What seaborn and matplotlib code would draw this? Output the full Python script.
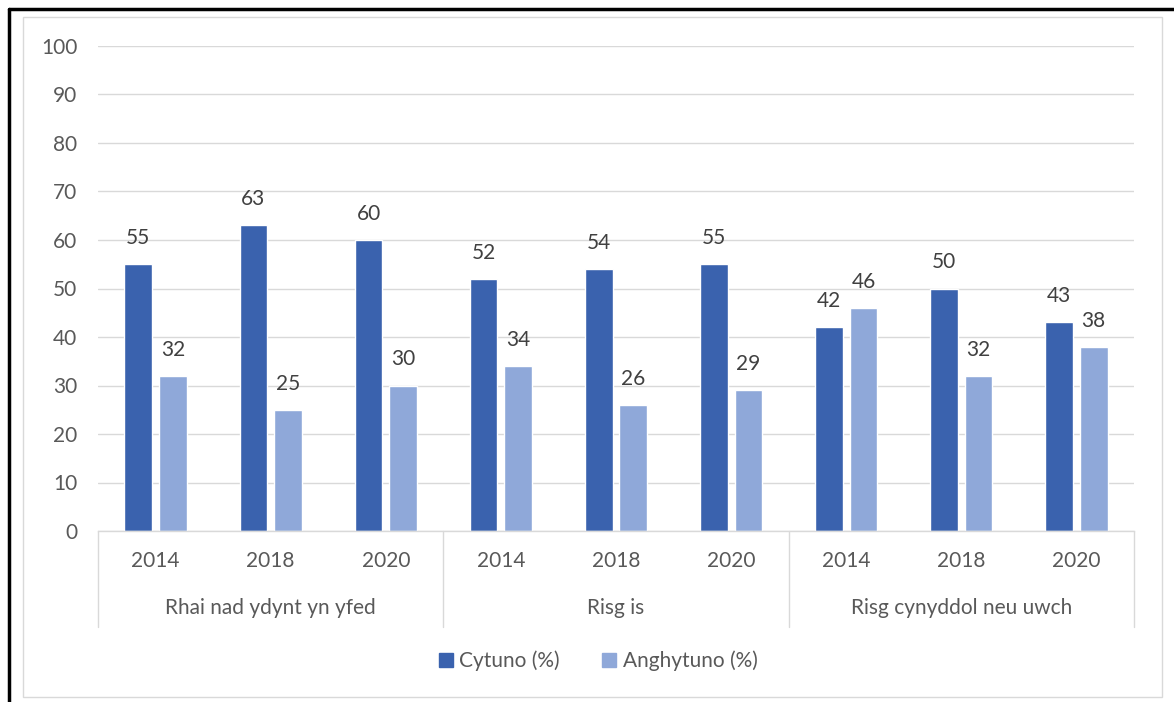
import matplotlib
matplotlib.use("Agg")
import matplotlib.pyplot as plt
import matplotlib.transforms as mtransforms
from matplotlib.lines import Line2D
from matplotlib.patches import Rectangle
import seaborn as sns
import pandas as pd

groups = ["Rhai nad ydynt yn yfed", "Risg is", "Risg cynyddol neu uwch"]
years = ["2014", "2018", "2020"]
series_names = ["Cytuno (%)", "Anghytuno (%)"]
cytuno = [55, 63, 60, 52, 54, 55, 42, 50, 43]
anghytuno = [32, 25, 30, 34, 26, 29, 46, 32, 38]
colors = ["#3A62AE", "#8FA8D9"]

sns.set_theme(style="white")
plt.rcParams["font.family"] = ["Lato", "DejaVu Sans"]
FS = 15

rows = []
for i, v in enumerate(cytuno):
    rows.append({"cat": i, "series": series_names[0], "value": v})
for i, v in enumerate(anghytuno):
    rows.append({"cat": i, "series": series_names[1], "value": v})
df = pd.DataFrame(rows)

fig = plt.figure(figsize=(11.74, 7.02), dpi=100)
W, H = 1174, 702
ax = fig.add_axes([98 / W, 1 - 531 / H, (1134 - 98) / W, (531 - 46) / H])

sns.barplot(data=df, x="cat", y="value", hue="series", palette=colors,
            width=0.6, gap=0.2, ax=ax, legend=False, saturation=1)

ax.set_ylim(0, 100)
ax.set_xlim(-0.5, 8.5)
ax.set_yticks(range(0, 101, 10))
ax.yaxis.grid(True, color="#D9D9D9", linewidth=1)
ax.set_axisbelow(True)
for s in ["top", "right", "left"]:
    ax.spines[s].set_visible(False)
ax.spines["bottom"].set_color("#D9D9D9")
ax.spines["bottom"].set_linewidth(1)
ax.tick_params(axis="y", length=0, pad=15, labelsize=FS, labelcolor="#595959")
ax.tick_params(axis="x", length=0, labelbottom=False)
ax.set_xlabel("")
ax.set_ylabel("")

# data labels
for cont in ax.containers:
    for bar in cont:
        h = bar.get_height()
        ax.text(bar.get_x() + bar.get_width() / 2, h + 5.4, f"{int(round(h))}",
                ha="center", va="center", fontsize=FS, color="#404040")

# multi-level category axis
tr = mtransforms.blended_transform_factory(ax.transData, fig.transFigure)
for i in range(9):
    ax.text(i, 1 - 561 / H, years[i % 3], transform=tr, ha="center", va="center",
            fontsize=FS, color="#595959")
for g in range(3):
    ax.text(g * 3 + 1, 1 - 608 / H, groups[g], transform=tr, ha="center", va="center",
            fontsize=FS, color="#595959")
for xb in [-0.5, 2.5, 5.5, 8.5]:
    fig.add_artist(Line2D([xb, xb], [1 - 531 / H, 1 - 627 / H], transform=tr,
                          color="#D9D9D9", linewidth=1, clip_on=False))

# legend
handles = [Rectangle((0, 0), 1, 1, color=c) for c in colors]
fig.legend(handles, series_names, loc="center", bbox_to_anchor=(598 / W, 1 - 661 / H),
           ncol=2, frameon=False, fontsize=FS, handlelength=0.7, handleheight=0.7,
           handletextpad=0.3, columnspacing=2.0, labelcolor="#595959")

# chart area border and outer black border
fig.add_artist(Rectangle((23 / W, 1 - 697 / H), (1162 - 23) / W, (697 - 17) / H,
                         transform=fig.transFigure, fill=False, edgecolor="#D9D9D9",
                         linewidth=1))
fig.add_artist(Line2D([9 / W, 1], [1 - 9 / H, 1 - 9 / H], transform=fig.transFigure,
                      color="black", linewidth=2.5))
fig.add_artist(Line2D([9 / W, 9 / W], [1 - 9 / H, 0], transform=fig.transFigure,
                      color="black", linewidth=2.5))

fig.savefig("out.png", dpi=100, facecolor="white")
